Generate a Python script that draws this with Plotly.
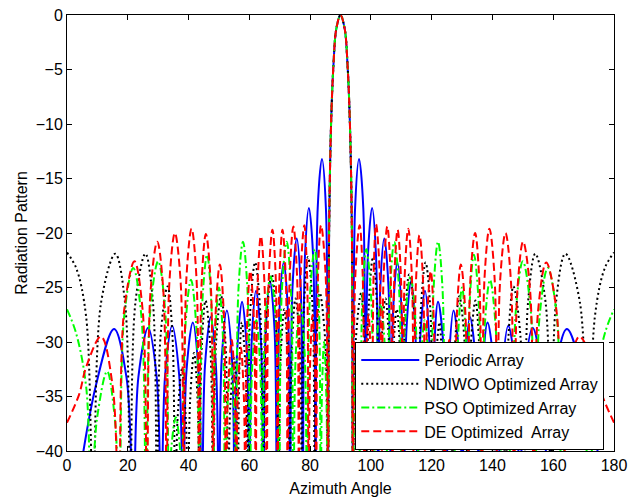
import plotly.graph_objects as go

# ---------------- data (angles in degrees, levels in dB) ----------------
# main beam, shared by all four patterns
main_angle = [86.25, 86.9, 87.7, 88.6, 90.0, 91.4, 92.3, 93.1, 93.75]
main_db = [-20.0, -10.0, -4.5, -1.3, 0.0, -1.3, -4.5, -10.0, -20.0]

# Periodic array: nulls, lobe shoulders and lobe peaks
periodic_left_angle = [0, 9.5, 15.5, 19.6, 21.8, 23.5, 26.7, 29.5, 31.0, 32.3, 34.6, 36.9, 38.2,
                       39.3, 41.4, 43.3, 44.4, 45.4, 47.3, 49.0, 50.0, 50.9, 52.6, 54.3, 55.2,
                       56.0, 57.6, 59.2, 60.0, 60.8, 62.2, 63.8, 64.6, 65.4, 66.8, 68.3, 69.1,
                       69.9, 71.3, 72.7, 73.4, 74.2, 75.6, 76.9, 77.6, 78.3, 79.6, 81.0, 81.8,
                       82.5, 83.9, 85.2, 85.9]
periodic_left_db = [-50, -34.0, -28.8, -33.3, -45, -33.2, -28.7, -33.2, -45, -33.0, -28.5, -33.0, -45,
                    -32.7, -28.2, -32.7, -45, -32.2, -27.7, -32.2, -45, -31.6, -27.1, -31.6, -45,
                    -30.8, -26.3, -30.8, -45, -29.8, -25.3, -29.8, -45, -28.9, -24.4, -28.9, -45,
                    -27.2, -22.7, -27.2, -45, -25.0, -20.5, -25.0, -45, -22.2, -17.7, -22.2, -45,
                    -17.7, -13.2, -17.7, -45]
periodic_right_angle = [94.1, 94.8, 96.1, 97.5, 98.2, 99.0, 100.4, 101.7, 102.4, 103.1, 104.4, 105.8,
                        106.6, 107.3, 108.7, 110.1, 110.9, 111.7, 113.2, 114.6, 115.4, 116.2, 117.8,
                        119.2, 120.0, 120.8, 122.1, 124.0, 124.8, 125.7, 127.2, 129.1, 130.0, 131.0,
                        132.6, 134.6, 135.6, 136.7, 138.4, 140.6, 141.8, 143.1, 145.2, 147.7, 149.0,
                        150.5, 153.2, 156.5, 158.2, 160.4, 164.5, 170.5, 180]
periodic_right_db = [-45, -17.7, -13.2, -17.7, -45, -22.2, -17.7, -22.2, -45, -25.0, -20.5, -25.0,
                     -45, -27.2, -22.7, -27.2, -45, -28.9, -24.4, -28.9, -45, -29.8, -25.3,
                     -29.8, -45, -30.8, -26.3, -30.8, -45, -31.6, -27.1, -31.6, -45, -32.2,
                     -27.7, -32.2, -45, -32.7, -28.2, -32.7, -45, -33.0, -28.5, -33.0, -45,
                     -33.2, -28.7, -33.2, -45, -33.3, -28.8, -34.0, -50]

# NDIWO optimized array
ndiwo_left_angle = [0, 3.0, 6.3, 8.6, 11.2, 15.9, 19.1, 20.8, 22.5, 25.8, 28.3, 29.6, 30.8, 33.1, 34.7,
                    35.6, 36.4, 37.8, 39.1, 39.8, 40.5, 41.8, 43.0, 43.6, 44.3, 45.6, 47.2, 48.1,
                    49.0, 50.7, 52.2, 53.0, 53.7, 55.0, 55.8, 56.2, 56.7, 57.5, 58.8, 59.5, 60.3,
                    61.9, 63.6, 64.5, 65.5, 67.4, 68.8, 69.6, 70.3, 71.5, 72.7, 73.3, 74.0, 75.2,
                    76.6, 77.3, 78.0, 79.3, 80.8, 81.5, 82.1, 83.2, 85.0, 85.9]
ndiwo_left_db = [-21.8, -23.2, -27.7, -45, -26.4, -21.9, -26.4, -45, -26.4, -21.9, -26.4, -45, -29.4, -24.9, -29.4,
                 -45, -37.0, -32.5, -37.0, -45, -35.5, -31.0, -35.5, -45, -30.7, -26.2, -30.7, -45,
                 -30.3, -25.8, -30.3, -45, -36.0, -31.5, -36.0, -45, -32.7, -28.2, -32.7, -45, -27.2,
                 -22.7, -27.2, -45, -28.3, -23.8, -28.3, -45, -31.5, -27.0, -31.5, -45, -30.5, -26.0,
                 -30.5, -45, -26.7, -22.2, -26.7, -45, -30.0, -25.5, -30.0, -45]
ndiwo_right_angle = [94.1, 95.0, 96.8, 97.9, 98.5, 99.3, 100.7, 102.0, 102.7, 103.4, 104.8, 106.0,
                     106.7, 107.3, 108.5, 109.7, 110.4, 111.2, 112.6, 114.5, 115.5, 116.4, 118.0,
                     119.6, 120.5, 121.2, 122.6, 123.4, 123.8, 124.2, 125.0, 126.3, 127.0, 127.7,
                     129.1, 130.9, 131.9, 132.8, 134.4, 135.7, 136.4, 137.0, 138.2, 139.5, 140.2,
                     140.9, 142.2, 143.6, 144.4, 145.3, 146.9, 149.2, 150.4, 151.7, 154.1, 157.5,
                     159.2, 160.9, 164.0, 168.8, 171.4, 173.7, 177.0, 180]
ndiwo_right_db = [-45, -30.0, -25.5, -30.0, -45, -26.7, -22.2, -26.7, -45, -30.5, -26.0, -30.5,
                  -45, -31.5, -27.0, -31.5, -45, -28.3, -23.8, -28.3, -45, -27.2, -22.7,
                  -27.2, -45, -32.7, -28.2, -32.7, -45, -36.0, -31.5, -36.0, -45, -30.3,
                  -25.8, -30.3, -45, -30.7, -26.2, -30.7, -45, -35.5, -31.0, -35.5, -45,
                  -37.0, -32.5, -37.0, -45, -29.4, -24.9, -29.4, -45, -26.4, -21.9, -26.4,
                  -45, -26.4, -21.9, -26.4, -45, -27.7, -23.2, -21.8]

# PSO optimized array
pso_left_angle = [0, 3.0, 6.3, 8.0, 9.8, 13.2, 15.8, 17.2, 18.8, 21.8, 24.5, 26.0, 27.4, 30.0, 32.3,
                  33.6, 34.4, 35.8, 37.1, 37.8, 38.9, 40.8, 42.6, 43.6, 44.5, 46.1, 47.5, 48.2,
                  48.8, 50.0, 51.3, 52.0, 52.7, 54.0, 55.0, 55.6, 56.4, 57.9, 59.4, 60.2, 60.9,
                  62.3, 63.6, 64.3, 65.2, 67.0, 68.8, 69.8, 70.7, 72.3, 73.7, 74.5, 75.3, 76.8,
                  78.2, 79.0, 79.9, 81.5, 82.8, 83.5, 83.9, 84.6, 85.3, 85.9]
pso_left_db = [-27.0, -29.2, -34.1, -45, -37.2, -32.7, -37.2, -45, -27.7, -23.2, -27.7, -45, -27.1, -22.6, -27.1,
               -45, -39.5, -36.9, -39.5, -45, -28.8, -24.3, -28.8, -45, -26.5, -22.0, -26.5, -45,
               -29.5, -25.0, -29.5, -45, -36.5, -32.0, -36.5, -45, -25.3, -20.8, -25.3, -45, -32.5,
               -28.0, -32.5, -45, -28.5, -24.0, -28.5, -45, -25.3, -20.8, -25.3, -45, -31.0, -26.5,
               -31.0, -45, -26.0, -21.5, -26.0, -45, -34.5, -30.0, -34.5, -45]
pso_right_angle = [94.1, 94.6, 95.4, 96.1, 96.5, 97.2, 98.5, 100.1, 101.0, 101.8, 103.2, 104.7,
                   105.5, 106.3, 107.7, 109.3, 110.2, 111.2, 113.0, 114.8, 115.7, 116.4, 117.7,
                   119.1, 119.8, 120.6, 122.1, 123.6, 124.4, 125.0, 126.0, 127.3, 128.0, 128.7,
                   130.0, 131.2, 131.8, 132.5, 133.9, 135.5, 136.4, 137.4, 139.2, 141.1, 142.2,
                   142.9, 144.2, 145.6, 146.4, 147.7, 150.0, 152.6, 154.0, 155.5, 158.2, 161.2,
                   162.8, 164.2, 166.8, 170.2, 172.0, 173.7, 177.0, 180]
pso_right_db = [-45, -34.5, -30.0, -34.5, -45, -26.0, -21.5, -26.0, -45, -31.0, -26.5, -31.0,
                -45, -25.3, -20.8, -25.3, -45, -28.5, -24.0, -28.5, -45, -32.5, -28.0,
                -32.5, -45, -25.3, -20.8, -25.3, -45, -36.5, -32.0, -36.5, -45, -29.5,
                -25.0, -29.5, -45, -26.5, -22.0, -26.5, -45, -28.8, -24.3, -28.8, -45,
                -39.5, -36.9, -39.5, -45, -27.1, -22.6, -27.1, -45, -27.7, -23.2, -27.7,
                -45, -37.2, -32.7, -37.2, -45, -34.1, -29.2, -27.0]

# DE optimized array
de_left_angle = [0, 4.0, 6.3, 11.2, 15.0, 17.0, 18.8, 22.2, 24.9, 26.3, 27.5, 29.7, 31.7, 32.8, 33.7,
                 35.5, 37.4, 38.4, 39.3, 41.0, 42.6, 43.5, 44.3, 45.7, 47.3, 48.1, 48.9, 50.3,
                 51.6, 52.3, 53.0, 54.2, 55.2, 55.7, 56.2, 57.2, 58.2, 58.7, 59.3, 60.3, 61.5,
                 62.1, 62.7, 63.8, 65.0, 65.7, 66.4, 67.6, 68.7, 69.3, 69.9, 70.9, 72.0, 72.6,
                 73.3, 74.5, 75.7, 76.3, 76.9, 78.1, 79.0, 79.5, 80.0, 80.8, 81.6, 82.0, 82.6,
                 83.6, 85.1, 85.9]
de_left_db = [-37.4, -34.8, -32.3, -29.5, -34.0, -45, -27.1, -22.6, -27.1, -45, -25.3, -20.8, -25.3, -45, -24.5,
              -20.0, -24.5, -45, -24.1, -19.6, -24.1, -45, -24.6, -20.1, -24.6, -45, -27.4, -22.9,
              -27.4, -45, -34.3, -29.8, -34.3, -45, -35.0, -30.5, -35.0, -45, -28.0, -23.5, -28.0,
              -45, -24.8, -20.3, -24.8, -45, -24.2, -19.7, -24.2, -45, -24.2, -19.7, -24.2, -45,
              -23.9, -19.4, -23.9, -45, -23.8, -19.3, -23.8, -45, -32.0, -27.5, -32.0, -45, -23.8,
              -19.3, -23.8, -45]
de_right_angle = [94.1, 94.9, 96.3, 97.3, 97.9, 98.4, 99.2, 100.0, 100.4, 100.9, 101.7, 102.9, 103.5,
                  104.2, 105.4, 106.5, 107.1, 107.7, 108.8, 109.9, 110.5, 111.1, 112.3, 113.5,
                  114.1, 114.8, 116.0, 117.2, 117.9, 118.5, 119.7, 120.7, 121.3, 121.8, 122.8,
                  123.8, 124.3, 124.8, 125.8, 127.0, 127.6, 128.3, 129.6, 131.1, 131.9, 132.7,
                  134.3, 135.7, 136.5, 137.4, 139.0, 140.7, 141.6, 142.5, 144.3, 146.1, 147.1,
                  148.2, 150.1, 152.4, 153.6, 155.0, 157.7, 161.1, 163.0, 165.0, 168.6, 173.7,
                  176.0, 180]
de_right_db = [-45, -23.8, -19.3, -23.8, -45, -32.0, -27.5, -32.0, -45, -23.7, -19.2, -23.7, -45,
               -23.9, -19.4, -23.9, -45, -24.2, -19.7, -24.2, -45, -24.1, -19.6, -24.1,
               -45, -24.7, -20.2, -24.7, -45, -28.0, -23.5, -28.0, -45, -35.0, -30.5,
               -35.0, -45, -34.3, -29.8, -34.3, -45, -27.4, -22.9, -27.4, -45, -24.5,
               -20.0, -24.5, -45, -24.1, -19.6, -24.1, -45, -24.5, -20.0, -24.5, -45,
               -25.3, -20.8, -25.3, -45, -27.2, -22.7, -27.2, -45, -34.0, -29.5, -32.3,
               -34.8, -37.4]

x_ticks = [0, 20, 40, 60, 80, 100, 120, 140, 160, 180]
y_ticks = [0, -5, -10, -15, -20, -25, -30, -35, -40]

series = [
    ("Periodic Array", periodic_left_angle, periodic_left_db, periodic_right_angle, periodic_right_db,
     "#0000FF", "solid"),
    ("NDIWO Optimized Array", ndiwo_left_angle, ndiwo_left_db, ndiwo_right_angle, ndiwo_right_db,
     "#000000", "2px,3px"),
    ("PSO Optimized Array", pso_left_angle, pso_left_db, pso_right_angle, pso_right_db,
     "#00FF00", "8px,3px,2px,3px"),
    ("DE Optimized  Array", de_left_angle, de_left_db, de_right_angle, de_right_db,
     "#FF0000", "8px,4px"),
]

FONT = "Liberation Sans, Arial, sans-serif"

fig = go.Figure()
for name, la, ld, ra, rd, color, dash in series:
    fig.add_trace(go.Scatter(
        x=la + main_angle + ra,
        y=ld + main_db + rd,
        mode="lines",
        name=name,
        line=dict(color=color, width=2, dash=dash, shape="spline", smoothing=1.0),
    ))

axis_common = dict(
    showgrid=False, zeroline=False, showline=True, linecolor="black", linewidth=1,
    mirror="ticks", ticks="inside", ticklen=5, tickcolor="black", automargin=False,
    ticklabeloverflow="allow",
    tickfont=dict(family=FONT, size=16, color="black"),
)

# the page places the figure 8 px in from the top-left corner; size and margins account for that
fig.update_layout(
    width=632, height=489,
    margin=dict(l=59, r=26, t=7, b=46),
    paper_bgcolor="white", plot_bgcolor="white",
    font=dict(family=FONT, color="black"),
    xaxis=dict(range=[0, 180], tickvals=x_ticks,
               title=dict(text="Azimuth Angle", font=dict(family=FONT, size=16), standoff=10),
               **axis_common),
    yaxis=dict(range=[-40, 0], tickvals=y_ticks,
               title=dict(text="Radiation Pattern", font=dict(family=FONT, size=16), standoff=4),
               **axis_common),
    legend=dict(x=0.527, y=0.25, xanchor="left", yanchor="top",
                bgcolor="white", bordercolor="black", borderwidth=1,
                font=dict(family=FONT, size=16, color="black"),
                itemwidth=58, tracegroupgap=0),
    showlegend=True,
)

fig.write_html("out.html")
